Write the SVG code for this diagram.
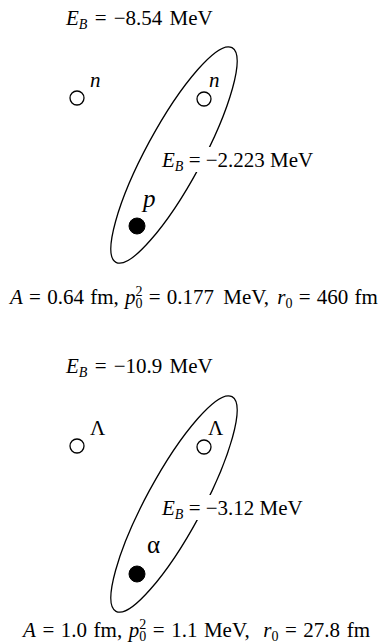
<svg xmlns="http://www.w3.org/2000/svg" width="380" height="643" viewBox="0 0 380 643">
<style>
text{font-family:"Liberation Serif","Times New Roman",serif;font-size:21px;fill:#000}
.i{font-style:italic}
.s{font-size:14px}
.open{fill:#fff;stroke:#000;stroke-width:1.3}
.fill{fill:#000;stroke:#000}
.ell{fill:none;stroke:#000;stroke-width:1.3}
.bg{fill:#fff}
</style>
<rect width="380" height="643" fill="#fff"/>
<g id="panel-deuteron">
  <g id="label-total-top"><text x="66" y="25" style="word-spacing:2px"><tspan class="i">E</tspan><tspan class="i s" dy="4">B</tspan><tspan dy="-4"> = −8.54 MeV</tspan></text></g>
  <g id="pair-top">
    <ellipse class="ell" cx="174" cy="155" rx="122" ry="28" transform="rotate(-61.6 174 155)"/>
    <rect class="bg" x="161" y="147" width="156" height="25"/>
    <text x="162" y="167"><tspan class="i">E</tspan><tspan class="i s" dy="4">B</tspan><tspan dy="-4"> = −2.223 MeV</tspan></text>
  </g>
  <g id="n1"><circle class="open" cx="77" cy="98" r="7"/><text class="i" x="90" y="87">n</text></g>
  <g id="n2"><circle class="open" cx="204" cy="99" r="7"/><text class="i" x="209" y="87">n</text></g>
  <g id="p"><circle class="fill" cx="137" cy="226" r="8"/><text class="i" x="143" y="207" style="font-size:25px">p</text></g>
  <g id="params-top"><text x="10" y="304" style="word-spacing:1px"><tspan class="i">A</tspan> = 0.64 fm, <tspan class="i">p</tspan><tspan class="s" dy="-8">2</tspan><tspan class="s" dx="-7" dy="12">0</tspan><tspan dy="-4"> = 0.177</tspan><tspan dx="3"> MeV, </tspan><tspan class="i" dx="2">r</tspan><tspan class="s" dy="4">0</tspan><tspan dy="-4"> = 460 fm</tspan></text></g>
</g>
<g id="panel-hypernucleus">
  <g id="label-total-bottom"><text x="66" y="373" style="word-spacing:2px"><tspan class="i">E</tspan><tspan class="i s" dy="4">B</tspan><tspan dy="-4"> = −10.9 MeV</tspan></text></g>
  <g id="pair-bottom">
    <ellipse class="ell" cx="174" cy="504" rx="122" ry="28" transform="rotate(-61.6 174 504)"/>
    <rect class="bg" x="161" y="495" width="146" height="25"/>
    <text x="162" y="515"><tspan class="i">E</tspan><tspan class="i s" dy="4">B</tspan><tspan dy="-4"> = −3.12 MeV</tspan></text>
  </g>
  <g id="L1"><circle class="open" cx="77" cy="446" r="7"/><text x="90" y="435">Λ</text></g>
  <g id="L2"><circle class="open" cx="204" cy="447" r="7"/><text x="208" y="435">Λ</text></g>
  <g id="alpha"><circle class="fill" cx="137" cy="574" r="8"/><text x="147" y="553" style="font-size:25px">α</text></g>
  <g id="params-bottom"><text x="23" y="637" style="word-spacing:1.3px"><tspan class="i">A</tspan> = 1.0 fm, <tspan class="i">p</tspan><tspan class="s" dy="-8">2</tspan><tspan class="s" dx="-7" dy="12">0</tspan><tspan dy="-4"> = 1.1 MeV, </tspan><tspan class="i" dx="7">r</tspan><tspan class="s" dy="4">0</tspan><tspan dy="-4"> = 27.8 fm</tspan></text></g>
</g>
<g id="connectors"/>
</svg>
